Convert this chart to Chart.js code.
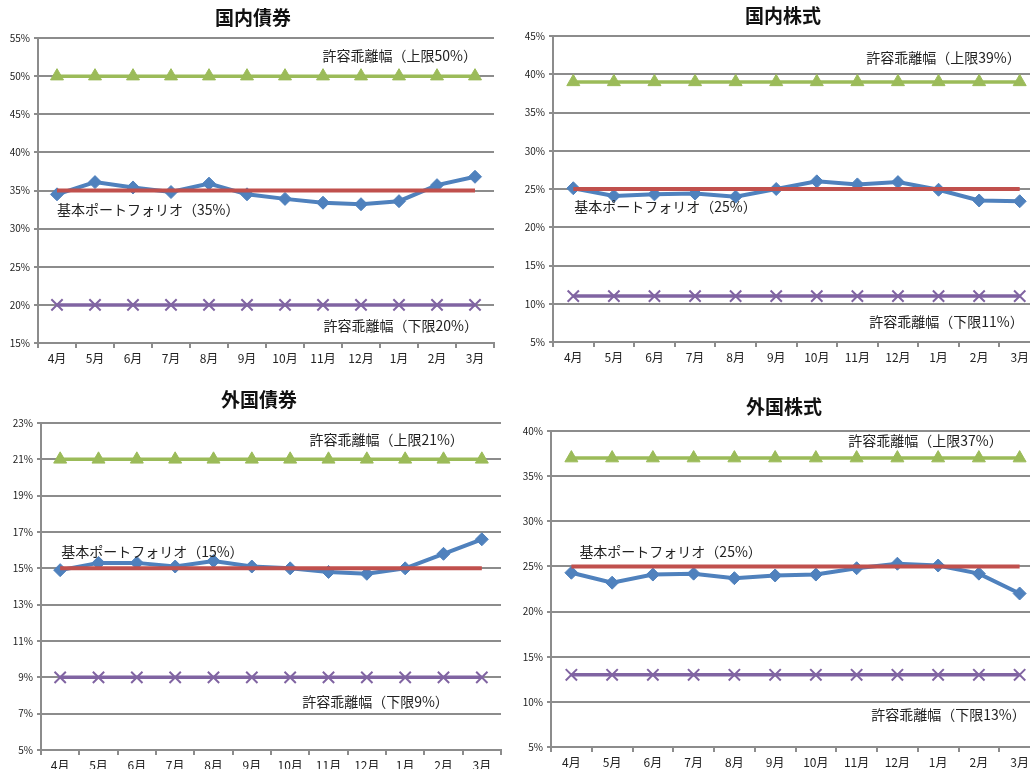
<!DOCTYPE html>
<html>
<head>
<meta charset="utf-8">
<script src="https://cdn.jsdelivr.net/npm/chart.js@4.4.1/dist/chart.umd.min.js"></script>
<style>
html, body { margin: 0; padding: 0; background: #fff; overflow: hidden; width: 1030px; height: 769px; }
canvas { position: absolute; }
</style>
</head>
<body>
<canvas id="c1" width="515" height="380" style="left:0;top:0"></canvas>
<canvas id="c2" width="540" height="380" style="left:515px;top:0"></canvas>
<canvas id="c3" width="515" height="389" style="left:0;top:380px"></canvas>
<canvas id="c4" width="540" height="389" style="left:515px;top:380px"></canvas>
<script>
// data
const months = ['4月', '5月', '6月', '7月', '8月', '9月', '10月', '11月', '12月', '1月', '2月', '3月'];
const titles = ['国内債券', '国内株式', '外国債券', '外国株式'];

const domBondActual  = [34.5, 36.1, 35.4, 34.8, 35.9, 34.5, 33.9, 33.4, 33.2, 33.6, 35.7, 36.8];
const domStockActual = [25.1, 24.1, 24.3, 24.4, 24.0, 25.0, 26.0, 25.6, 25.9, 24.9, 23.5, 23.4];
const forBondActual  = [14.9, 15.3, 15.3, 15.1, 15.4, 15.1, 15.0, 14.8, 14.7, 15.0, 15.8, 16.6];
const forStockActual = [24.3, 23.2, 24.1, 24.2, 23.7, 24.0, 24.1, 24.8, 25.3, 25.1, 24.2, 22.0];

const policyValues = [35, 25, 15, 25];
const upperLimits  = [50, 39, 21, 37];
const lowerLimits  = [20, 11, 9, 13];

const yMins  = [15, 5, 5, 5];
const yMaxs  = [55, 45, 23, 40];
const ySteps = [5, 5, 2, 5];

const policyLabels = ['基本ポートフォリオ（35%）', '基本ポートフォリオ（25%）', '基本ポートフォリオ（15%）', '基本ポートフォリオ（25%）'];
const upperLabels  = ['許容乖離幅（上限50%）', '許容乖離幅（上限39%）', '許容乖離幅（上限21%）', '許容乖離幅（上限37%）'];
const lowerLabels  = ['許容乖離幅（下限20%）', '許容乖離幅（下限11%）', '許容乖離幅（下限9%）', '許容乖離幅（下限13%）'];

const actuals = [domBondActual, domStockActual, forBondActual, forStockActual];

// layout for each panel
const layouts = [
    { yw: 38, pad: { top: 38, right: 21, bottom: 7, left: 0 }, xh: 30, tx: 253, ty: 18,
      up: { dx: 2, dy: -20 }, base: { dx: 0, dy: 19 }, low: { dx: 3, dy: 21 } },
    { yw: 38, pad: { top: 36, right: 15, bottom: 8, left: 0 }, xh: 30, tx: 268, ty: 16,
      up: { dx: 1, dy: -24 }, base: { dx: 1, dy: 18 }, low: { dx: 4, dy: 26 } },
    { yw: 41, pad: { top: 43, right: 14, bottom: 0, left: 0 }, xh: 19, tx: 259, ty: 20,
      up: { dx: -18, dy: -20 }, base: { dx: 1, dy: -17 }, low: { dx: -33, dy: 24 } },
    { yw: 36, pad: { top: 51, right: 15, bottom: 0, left: 0 }, xh: 22, tx: 269, ty: 27,
      up: { dx: -17, dy: -17 }, base: { dx: 8, dy: -15 }, low: { dx: 6, dy: 40 } }
];

const FONT = '"Noto Sans CJK JP", "Noto Sans", sans-serif';
const gridColor = '#8c8c8c';

// title and in-chart labels
const labelPlugin = {
    id: 'panelLabels',
    afterDatasetsDraw(chart) {
        const i = chart.options.panelIndex;
        const L = layouts[i];
        const ctx = chart.ctx;
        const x = chart.scales.x;
        const y = chart.scales.y;
        const first = x.getPixelForValue(0);
        const last = x.getPixelForValue(months.length - 1);
        ctx.save();
        ctx.fillStyle = '#111';
        ctx.textBaseline = 'middle';
        ctx.font = 'bold 19px ' + FONT;
        ctx.textAlign = 'center';
        ctx.fillText(titles[i], L.tx, L.ty);
        ctx.font = '14px ' + FONT;
        ctx.fillStyle = '#222';
        ctx.textAlign = 'right';
        ctx.fillText(upperLabels[i], last + L.up.dx, y.getPixelForValue(upperLimits[i]) + L.up.dy);
        ctx.fillText(lowerLabels[i], last + L.low.dx, y.getPixelForValue(lowerLimits[i]) + L.low.dy);
        ctx.textAlign = 'left';
        ctx.fillText(policyLabels[i], first + L.base.dx, y.getPixelForValue(policyValues[i]) + L.base.dy);
        ctx.restore();
    }
};

const makeChart = (id, i) => {
    const L = layouts[i];
    return new Chart(document.getElementById(id), {
        type: 'line',
        data: {
            labels: months,
            datasets: [
                {
                    label: '上限',
                    data: months.map(() => upperLimits[i]),
                    borderColor: '#9BBB59',
                    backgroundColor: '#9BBB59',
                    borderWidth: 3.5,
                    pointStyle: 'triangle',
                    pointRadius: 7.5,
                    pointBorderWidth: 1
                },
                {
                    label: '下限',
                    data: months.map(() => lowerLimits[i]),
                    borderColor: '#8064A2',
                    backgroundColor: '#8064A2',
                    borderWidth: 3.5,
                    pointStyle: 'crossRot',
                    pointRadius: 8,
                    pointBorderWidth: 2
                },
                {
                    label: '基本ポートフォリオ',
                    data: months.map(() => policyValues[i]),
                    borderColor: '#C0504D',
                    backgroundColor: '#C0504D',
                    borderWidth: 4,
                    pointRadius: 0
                },
                {
                    label: '実績',
                    data: actuals[i],
                    borderColor: '#4F81BD',
                    backgroundColor: '#4F81BD',
                    borderWidth: 4,
                    pointStyle: 'rectRot',
                    pointRadius: 6.5,
                    pointBorderWidth: 1
                }
            ]
        },
        options: {
            panelIndex: i,
            responsive: false,
            animation: false,
            layout: { padding: L.pad },
            plugins: {
                legend: { display: false },
                tooltip: { enabled: false },
                title: { display: false }
            },
            scales: {
                x: {
                    offset: true,
                    grid: { offset: true, drawOnChartArea: false, drawTicks: true, tickLength: 5, color: gridColor, lineWidth: 2 },
                    border: { color: gridColor, width: 2 },
                    ticks: { color: '#222', padding: 3, font: { family: FONT, size: 12 }, maxRotation: 0, autoSkip: false },
                    afterFit: (s) => { s.height = L.xh; }
                },
                y: {
                    min: yMins[i],
                    max: yMaxs[i],
                    grid: { color: gridColor, lineWidth: 2, tickLength: 4 },
                    border: { color: gridColor, width: 2 },
                    ticks: {
                        stepSize: ySteps[i],
                        padding: 4,
                        color: '#222',
                        font: { family: FONT, size: 10 },
                        callback: (v) => v + '%'
                    },
                    afterFit: (s) => { s.width = L.yw; }
                }
            }
        },
        plugins: [labelPlugin]
    });
};

['c1', 'c2', 'c3', 'c4'].forEach((id, i) => makeChart(id, i));
</script>
</body>
</html>
